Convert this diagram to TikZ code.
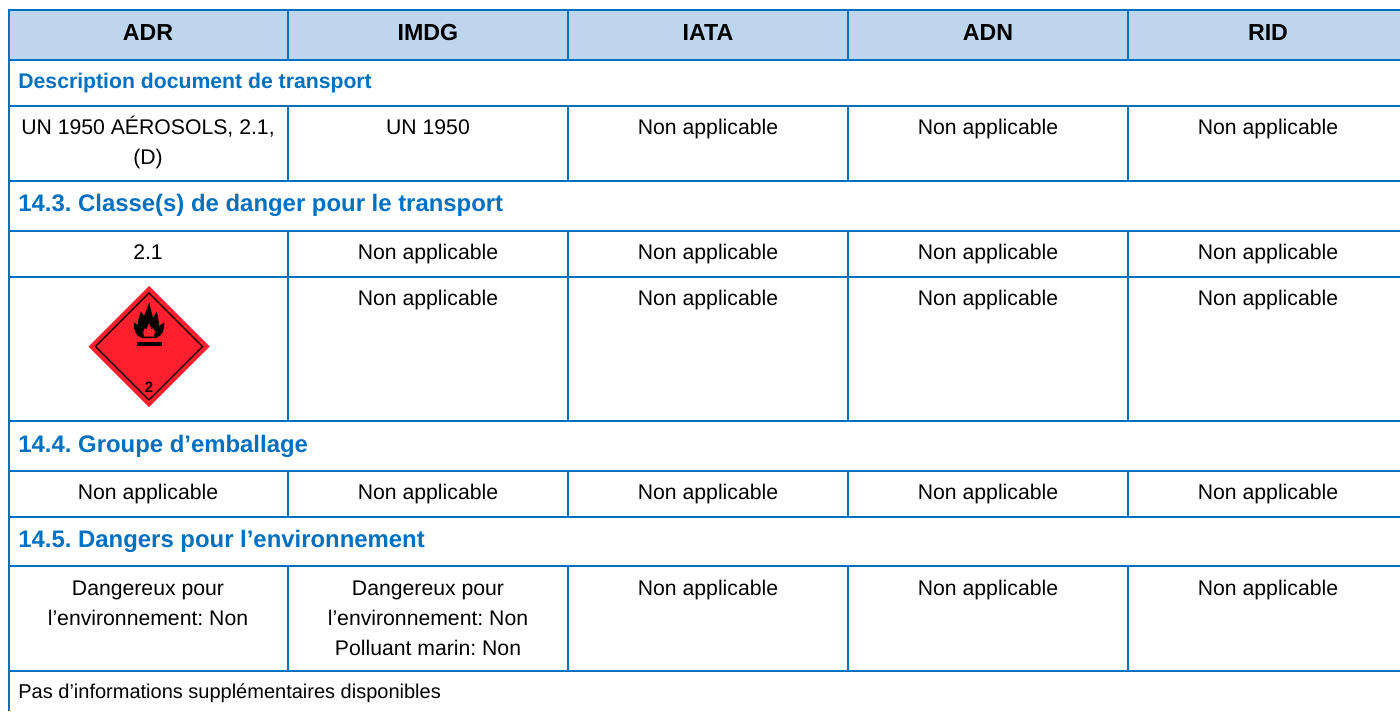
\documentclass[tikz,border=0pt]{standalone}
\usepackage{fontspec}
\setmainfont{Liberation Sans}
\frenchspacing
\definecolor{tblblue}{HTML}{0070C0}
\definecolor{headfill}{HTML}{BDD6EE}
\definecolor{hazred}{HTML}{FF1F2D}
\newcommand{\cellbox}[1]{\parbox[t]{260pt}{\centering #1}}
\tikzset{
  grid/.style={draw=tblblue,line width=1pt},
  headcell/.style={anchor=base,inner sep=0pt,font=\fontsize{11.6}{14}\selectfont\bfseries},
  bodycell/.style={anchor=base,inner sep=0pt,font=\fontsize{10.6}{15}\selectfont},
  section/.style={anchor=base west,inner sep=0pt,text=tblblue,font=\fontsize{11.95}{14}\selectfont\bfseries},
  sectionsmall/.style={anchor=base west,inner sep=0pt,text=tblblue,font=\fontsize{10.6}{14}\selectfont\bfseries},
  notecell/.style={anchor=base west,inner sep=0pt,font=\fontsize{10}{14}\selectfont},
}
\begin{document}
\begin{tikzpicture}[x=0.5pt,y=-0.5pt]
\useasboundingbox[fill=white] (0,0) rectangle (1400,711);
% header band
\fill[headfill] (9,10) rectangle (1400,60);
% horizontal rules
\foreach \yy in {10,60,106,181,231,277,421,471,517,566,671}
  \draw[grid] (8,\yy) -- (1400,\yy);
% left border
\draw[grid] (9,10) -- (9,711);
% column rules
\foreach \xx in {288,568,848,1128}{
  \draw[grid] (\xx,10) -- (\xx,60);
  \draw[grid] (\xx,106) -- (\xx,181);
  \draw[grid] (\xx,231) -- (\xx,421);
  \draw[grid] (\xx,471) -- (\xx,517);
  \draw[grid] (\xx,566) -- (\xx,671);
}
% header
\node[headcell] (hadr) at (148,41) {ADR};
\node[headcell] (himdg) at (428,41) {IMDG};
\node[headcell] (hiata) at (708,41) {IATA};
\node[headcell] (hadn) at (988,41) {ADN};
\node[headcell] (hrid) at (1268,41) {RID};
% description
\node[sectionsmall] (sdesc) at (18,89) {Description document de transport};
\node[bodycell] (d1) at (148,135) {\cellbox{UN 1950 AÉROSOLS, 2.1,\\(D)}};
\node[bodycell] (d2) at (428,135) {UN 1950};
\node[bodycell] (d3) at (708,135) {Non applicable};
\node[bodycell] (d4) at (988,135) {Non applicable};
\node[bodycell] (d5) at (1268,135) {Non applicable};
% 14.3
\node[section] (s143) at (18,212) {14.3. Classe(s) de danger pour le transport};
\node[bodycell] (c1) at (148,259) {2.1};
\node[bodycell] (c2) at (428,259) {Non applicable};
\node[bodycell] (c3) at (708,259) {Non applicable};
\node[bodycell] (c4) at (988,259) {Non applicable};
\node[bodycell] (c5) at (1268,259) {Non applicable};
\node[bodycell] (p2) at (428,305) {Non applicable};
\node[bodycell] (p3) at (708,305) {Non applicable};
\node[bodycell] (p4) at (988,305) {Non applicable};
\node[bodycell] (p5) at (1268,305) {Non applicable};
% hazard diamond
\fill[hazred] (149,286) -- (209.5,346.5) -- (149,407) -- (88.5,346.5) -- cycle;
\draw[black,line width=0.7pt] (149,293) -- (202.5,346.5) -- (149,400) -- (95.5,346.5) -- cycle;
\fill[black,even odd rule]
  (142,338) .. controls (136,336) and (133,330) .. (134,322.5)
  -- (138,325) .. controls (138,319) and (139.5,315) .. (141,311.5)
  -- (144,316) .. controls (146,311) and (148,306) .. (149.3,302)
  .. controls (150,308) and (152,313) .. (153,318)
  -- (156.7,311.5) .. controls (158,316) and (159,321) .. (159,326)
  -- (164.3,322.5) .. controls (165,330) and (162,336) .. (156,338) -- cycle
  (149,323) -- (151.5,329) -- (153.5,328) .. controls (155,331) and (155.5,334) .. (154,336.5)
  -- (144,336.5) .. controls (142.5,334) and (143,331) .. (144.5,328) -- (146.5,329) -- cycle;
\fill[black] (137,342) rectangle (161.5,345.5);
\node[anchor=base,inner sep=0pt,font=\fontsize{7.5}{8}\selectfont\bfseries] (classno) at (149,392) {2};
% 14.4
\node[section] (s144) at (18,452) {14.4. Groupe d’emballage};
\node[bodycell] (g1) at (148,499) {Non applicable};
\node[bodycell] (g2) at (428,499) {Non applicable};
\node[bodycell] (g3) at (708,499) {Non applicable};
\node[bodycell] (g4) at (988,499) {Non applicable};
\node[bodycell] (g5) at (1268,499) {Non applicable};
% 14.5
\node[section] (s145) at (18,547) {14.5. Dangers pour l’environnement};
\node[bodycell] (e1) at (148,595) {\cellbox{Dangereux pour\\l’environnement: Non}};
\node[bodycell] (e2) at (428,595) {\cellbox{Dangereux pour\\l’environnement: Non\\Polluant marin: Non}};
\node[bodycell] (e3) at (708,595) {Non applicable};
\node[bodycell] (e4) at (988,595) {Non applicable};
\node[bodycell] (e5) at (1268,595) {Non applicable};
% note
\node[notecell] (note) at (18,698) {Pas d’informations supplémentaires disponibles};
\end{tikzpicture}
\end{document}
